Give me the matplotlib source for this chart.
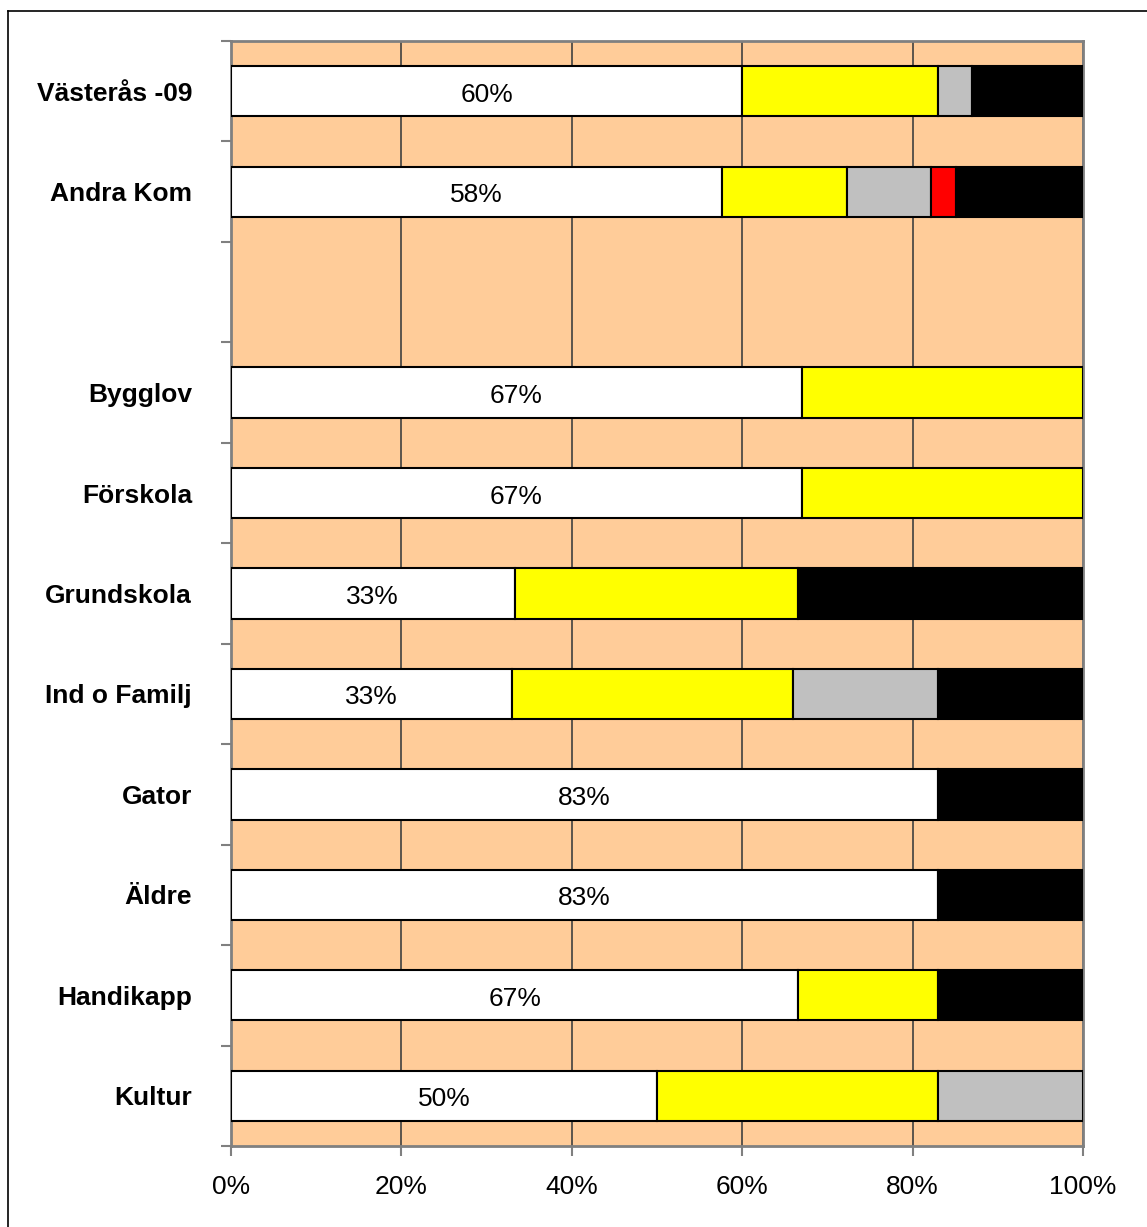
import numpy as np
import matplotlib.pyplot as plt
from matplotlib.ticker import PercentFormatter, FixedLocator
from matplotlib.lines import Line2D

plt.rcParams['font.family'] = ['Liberation Sans', 'DejaVu Sans']

# categories top to bottom ('' is the empty gap row)
categories = ['Västerås -09', 'Andra Kom', '', 'Bygglov', 'Förskola', 'Grundskola',
              'Ind o Familj', 'Gator', 'Äldre', 'Handikapp', 'Kultur']
white = [60, 57.6, 0, 67, 67, 33.3, 33, 83, 83, 66.6, 50]
yellow = [23, 14.7, 0, 33, 33, 33.3, 33, 0, 0, 16.4, 33]
gray = [4, 9.9, 0, 0, 0, 0, 17, 0, 0, 0, 17]
red = [0, 2.9, 0, 0, 0, 0, 0, 0, 0, 0, 0]
black = [13, 14.9, 0, 0, 0, 33.4, 17, 17, 17, 17, 0]

series = [(white, 'white'), (yellow, '#FFFF00'), (gray, '#C0C0C0'),
          (red, '#FF0000'), (black, '#000000')]

fig = plt.figure(figsize=(11.47, 12.27), dpi=100)
ax = fig.add_axes([231 / 1147, 1 - 1146 / 1227, (1083 - 231) / 1147, (1146 - 41) / 1227])
ax.set_facecolor('#FFCC99')

pos = np.arange(len(categories))
left = np.zeros(len(categories))
for k, (vals, col) in enumerate(series):
    vals = np.array(vals, dtype=float)
    m = vals > 0
    bc = ax.barh(pos[m], vals[m], left=left[m], height=0.5, color=col,
                 edgecolor='black', linewidth=1.5, zorder=3)
    if k == 0:
        anns = ax.bar_label(bc, labels=['{:.0f}%'.format(v) for v in vals[m]],
                            label_type='center', fontsize=19, zorder=4)
        for a in anns:
            a.xyann = (0, -2.5)
    left += vals

ax.set_xlim(0, 100)
ax.set_ylim(len(categories) - 0.5, -0.5)

ax.xaxis.set_major_locator(FixedLocator([0, 20, 40, 60, 80, 100]))
ax.xaxis.set_major_formatter(PercentFormatter(100, decimals=0))
ax.tick_params(axis='x', direction='out', length=7, width=1.5, color='#808080',
               labelsize=19, pad=14)
ax.xaxis.grid(True, color='#404040', linewidth=1.2)
ax.set_axisbelow(True)

ax.yaxis.set_major_locator(FixedLocator(np.arange(-0.5, len(categories), 1.0)))
ax.yaxis.set_minor_locator(FixedLocator(pos))
ax.set_yticklabels([], minor=False)
ax.set_yticklabels(categories, minor=True, fontweight='bold', fontsize=19)
ax.tick_params(axis='y', which='major', direction='out', length=7, width=1.5, color='#808080')
ax.tick_params(axis='y', which='minor', length=0, pad=28)

for s in ax.spines.values():
    s.set_color('#808080')
    s.set_linewidth(2)

# outer chart border (extends past the image on right/bottom)
fig.add_artist(Line2D([8 / 1147, 8 / 1147], [0, 1 - 11 / 1227], color='black', lw=1.2))
fig.add_artist(Line2D([8 / 1147, 1], [1 - 11 / 1227, 1 - 11 / 1227], color='black', lw=1.2))

fig.savefig('out.png', dpi=100)
